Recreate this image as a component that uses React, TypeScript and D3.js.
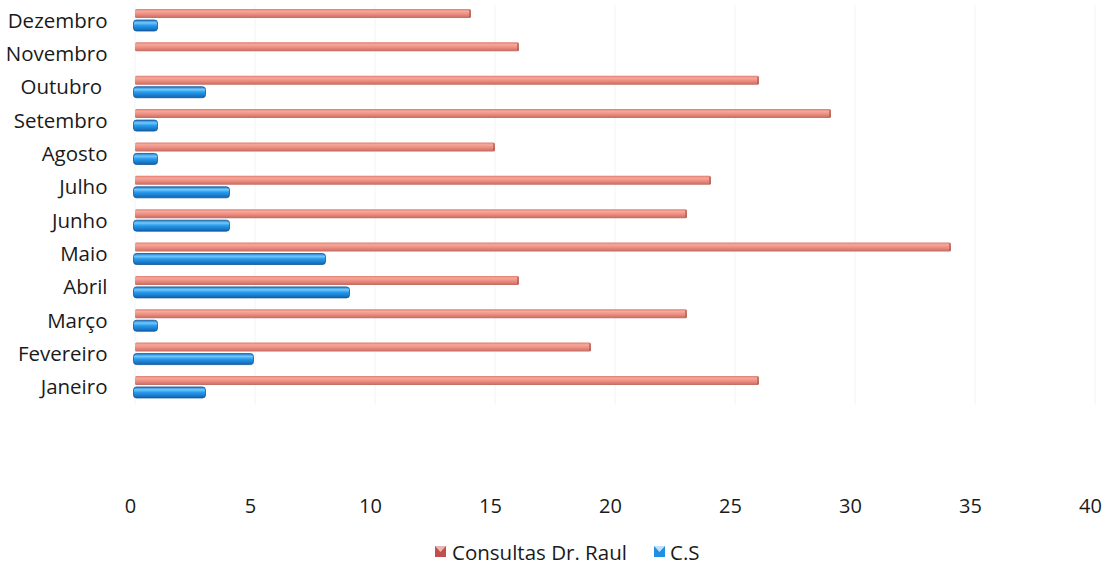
import React from "react";
import * as d3 from "d3";

const months = ["Janeiro", "Fevereiro", "Março", "Abril", "Maio", "Junho", "Julho", "Agosto", "Setembro", "Outubro ", "Novembro", "Dezembro"];
const consultasDrRaul = [26, 19, 23, 16, 34, 23, 24, 15, 29, 26, 16, 14];
const cs = [3, 5, 1, 9, 8, 4, 4, 1, 1, 3, 0, 1];
const xTicks = [0, 5, 10, 15, 20, 25, 30, 35, 40];
const seriesNames = ["Consultas Dr. Raul", "C.S"];

const W = 1115;
const H = 565;
const FONT = "'Open Sans', 'Noto Sans', sans-serif";

export default function App() {
  const x = d3.scaleLinear().domain([0, 40]).range([135, 1095]);
  const order = months.slice().reverse();
  const y = d3.scaleBand<string>().domain(order).range([9, 9 + 12 * 33.36]).padding(0);
  const redH = 9;
  const blueOff = 11;
  const blueH = 11;

  return (
    <svg width={W} height={H} style={{ position: "absolute", left: 0, top: 0, background: "#fff" }}>
      <defs>
        <linearGradient id="gRed" x1="0" y1="0" x2="0" y2="1">
          <stop offset="0" stopColor="#de7d70" />
          <stop offset="0.25" stopColor="#f6a89a" />
          <stop offset="0.6" stopColor="#ec8a7e" />
          <stop offset="1" stopColor="#c06c62" />
        </linearGradient>
        <linearGradient id="gBlue" x1="0" y1="0" x2="0" y2="1">
          <stop offset="0" stopColor="#1d78c8" />
          <stop offset="0.25" stopColor="#72c9fa" />
          <stop offset="0.5" stopColor="#279aee" />
          <stop offset="1" stopColor="#1263ad" />
        </linearGradient>
      </defs>

      {xTicks.map((t) => (
        <line key={"g" + t} x1={x(t)} x2={x(t)} y1={5} y2={405} stroke="#f4f4f4" strokeWidth={1} />
      ))}

      {months.map((m, i) => {
        const yy = y(m)!;
        const r = consultasDrRaul[i];
        const b = cs[i];
        return (
          <g key={m}>
            <rect x={x(0)} y={yy} width={Math.max(x(r) - x(0), 1)} height={redH} fill="url(#gRed)" rx={1.5} />
            <rect x={x(r) - 2} y={yy + 1} width={2} height={redH - 2} fill="#9c5a55" opacity={0.6} />
            {b > 0 && (
              <rect x={x(0) - 1.5} y={yy + blueOff} width={x(b) - x(0)} height={blueH} fill="url(#gBlue)" stroke="#10579a" strokeWidth={0.8} rx={3} />
            )}
            <text x={107.5} y={yy + 10.5} textAnchor="end" dominantBaseline="central" fontFamily={FONT} fontSize={20.5} fill="#1a1a1a" style={{ whiteSpace: "pre" }}>
              {m}
            </text>
          </g>
        );
      })}

      {xTicks.map((t) => (
        <text key={"t" + t} x={x(t) - 4.5} y={505} textAnchor="middle" dominantBaseline="central" fontFamily={FONT} fontSize={20} fill="#1a1a1a">
          {t}
        </text>
      ))}

      <g>
        <rect x={435} y={546} width={11} height={11} fill="#c0504d" />
        <path d="M435,546 L440.5,552 L446,546 Z" fill="#e8b7b2" />
        <text x={452} y={552} dominantBaseline="central" fontFamily={FONT} fontSize={20.5} fill="#1a1a1a">{seriesNames[0]}</text>
        <rect x={654} y={546} width={11} height={11} fill="#1f8fe3" />
        <path d="M654,546 L659.5,552 L665,546 Z" fill="#bfe3fb" />
        <text x={670} y={552} dominantBaseline="central" fontFamily={FONT} fontSize={20.5} fill="#1a1a1a">{seriesNames[1]}</text>
      </g>
    </svg>
  );
}
